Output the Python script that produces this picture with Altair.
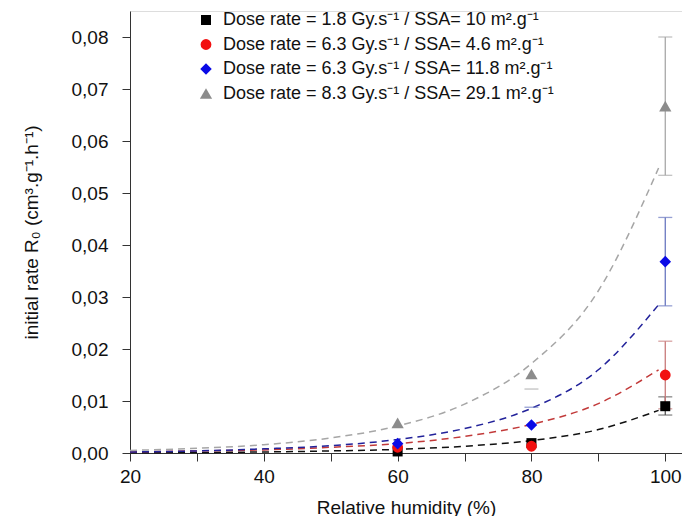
import altair as alt
import pandas as pd

series_names = [
    "Dose rate = 1.8 Gy.s⁻¹ / SSA= 10 m².g⁻¹",
    "Dose rate = 6.3 Gy.s⁻¹ / SSA= 4.6 m².g⁻¹",
    "Dose rate = 6.3 Gy.s⁻¹ / SSA= 11.8 m².g⁻¹",
    "Dose rate = 8.3 Gy.s⁻¹ / SSA= 29.1 m².g⁻¹",
]
marker_colors = ["#000000", "#f21010", "#0a0ae6", "#8c8c8c"]
line_colors = ["#111111", "#c23a3a", "#22229a", "#a6a6a6"]
err_colors = ["#555555", "#c87a7a", "#6a78c0", "#a8a8a8"]
shapes = ["square", "circle", "diamond", "triangle-up"]
sizes = [100, 150, 160, 160]

humidity = [60, 80, 100]
rate_black = [0.0003, 0.0019, 0.0090]
rate_red = [0.0011, 0.0013, 0.0150]
rate_blue = [0.0018, 0.0054, 0.0368]
rate_gray = [0.0058, 0.0152, 0.0667]
# lower / upper error (0 = no bar drawn on that side)
err_lo_black = [0.0, 0.0, 0.0017]
err_hi_black = [0.0, 0.0, 0.0018]
err_lo_red = [0.0, 0.0, 0.0065]
err_hi_red = [0.0, 0.0, 0.0065]
err_lo_blue = [0.0, 0.0, 0.0085]
err_hi_blue = [0.0, 0.0034, 0.0085]
err_lo_gray = [0.0, 0.0029, 0.0133]
err_hi_gray = [0.0, 0.0, 0.0133]

fit_x = [20, 30, 40, 50, 60, 70, 80, 90, 99]
fit_black = [0.00005, 0.0001, 0.0002, 0.0004, 0.0007, 0.0013, 0.0024, 0.0045, 0.0082]
fit_red = [0.0002, 0.0004, 0.0006, 0.0011, 0.0018, 0.0032, 0.0055, 0.0095, 0.0160]
fit_blue = [0.0002, 0.0004, 0.0008, 0.0014, 0.0026, 0.0047, 0.0086, 0.0160, 0.0285]
fit_gray = [0.0005, 0.0009, 0.0016, 0.0029, 0.0052, 0.0094, 0.0172, 0.0312, 0.0548]

rates = [rate_black, rate_red, rate_blue, rate_gray]
errs_lo = [err_lo_black, err_lo_red, err_lo_blue, err_lo_gray]
errs_hi = [err_hi_black, err_hi_red, err_hi_blue, err_hi_gray]
fits = [fit_black, fit_red, fit_blue, fit_gray]

pts_rows, fit_rows = [], []
for i, name in enumerate(series_names):
    for h, r, el, eh in zip(humidity, rates[i], errs_lo[i], errs_hi[i]):
        pts_rows.append({"series": name, "idx": i, "h": h, "r": r,
                         "el": el, "eh": eh, "lo": r - el, "hi": r + eh})
    for h, r in zip(fit_x, fits[i]):
        fit_rows.append({"series": name, "idx": i, "h": h, "r": r})
pts = pd.DataFrame(pts_rows)
fit = pd.DataFrame(fit_rows)

FONT = "Liberation Sans"
xscale = alt.Scale(domain=[20, 102.5], nice=False, zero=False)
yscale = alt.Scale(domain=[0, 0.085], nice=False)

x_axis = alt.Axis(
    values=[20, 30, 40, 50, 60, 70, 80, 90, 100],
    labelExpr="datum.value % 20 == 0 ? datum.label : ''",
    title="Relative humidity (%)", titleFontSize=19, titleFontWeight="normal",
    labelFontSize=19, labelPadding=6, titlePadding=12, grid=False, tickSize=8,
    labelFlush=False,
    domainColor="#333", tickColor="#333", labelColor="#111", titleColor="#111",
    labelFont=FONT, titleFont=FONT,
)
y_axis = alt.Axis(
    values=[round(0.005 * k, 3) for k in range(18)],
    labelExpr="round(datum.value*1000) % 10 == 0 ? replace(format(datum.value, '.2f'), '.', ',') : ''",
    title="initial rate R₀ (cm³.g⁻¹.h⁻¹)", titleFontSize=19, titleFontWeight="normal",
    labelFontSize=19, labelPadding=14, titlePadding=30, grid=False, tickSize=8,
    labelFlush=False,
    domainColor="#333", tickColor="#333", labelColor="#111", titleColor="#111",
    labelFont=FONT, titleFont=FONT,
)

layers = []
for i, name in enumerate(series_names):
    line = alt.Chart(fit).transform_filter(alt.datum.idx == i).mark_line(
        color=line_colors[i], strokeDash=[7, 5], strokeWidth=1.5, interpolate="monotone"
    ).encode(
        x=alt.X("h:Q", scale=xscale, axis=x_axis),
        y=alt.Y("r:Q", scale=yscale, axis=y_axis),
    )
    layers.append(line)

for i, name in enumerate(series_names):
    base = alt.Chart(pts).transform_filter(alt.datum.idx == i)
    rule = base.transform_filter("datum.el > 0 && datum.eh > 0").mark_rule(
        color=err_colors[i], strokeWidth=1.3
    ).encode(x=alt.X("h:Q", scale=xscale), y=alt.Y("lo:Q", scale=yscale), y2="hi:Q")
    cap_lo = base.transform_filter("datum.el > 0").mark_tick(
        color=err_colors[i], orient="horizontal", size=14, thickness=1.3
    ).encode(x=alt.X("h:Q", scale=xscale), y=alt.Y("lo:Q", scale=yscale))
    cap_hi = base.transform_filter("datum.eh > 0").mark_tick(
        color=err_colors[i], orient="horizontal", size=14, thickness=1.3
    ).encode(x=alt.X("h:Q", scale=xscale), y=alt.Y("hi:Q", scale=yscale))
    layers += [rule, cap_lo, cap_hi]

points = alt.Chart(pts).mark_point(filled=True, opacity=1).encode(
    x=alt.X("h:Q", scale=xscale),
    y=alt.Y("r:Q", scale=yscale),
    color=alt.Color("series:N", scale=alt.Scale(domain=series_names, range=marker_colors),
                    sort=series_names,
                    legend=alt.Legend(
                        orient="none", legendX=67, legendY=0, title=None,
                        labelFontSize=18, labelFont=FONT, labelColor="#111",
                        rowPadding=6.5, symbolSize=110, labelOffset=8, padding=0,
                        labelLimit=600,
                    )),
    shape=alt.Shape("series:N", scale=alt.Scale(domain=series_names, range=shapes), sort=series_names),
    size=alt.Size("series:N", scale=alt.Scale(domain=series_names, range=sizes), legend=None),
)
layers.append(points)

chart = alt.layer(*layers).properties(
    width=552, height=442,
    autosize=alt.AutoSizeParams(type="none"),
    padding={"left": 122, "top": 3, "right": 0, "bottom": 63},
).configure_view(stroke=None).configure(font=FONT)

chart.save("out.html", embed_options={"renderer": "svg", "actions": False})
